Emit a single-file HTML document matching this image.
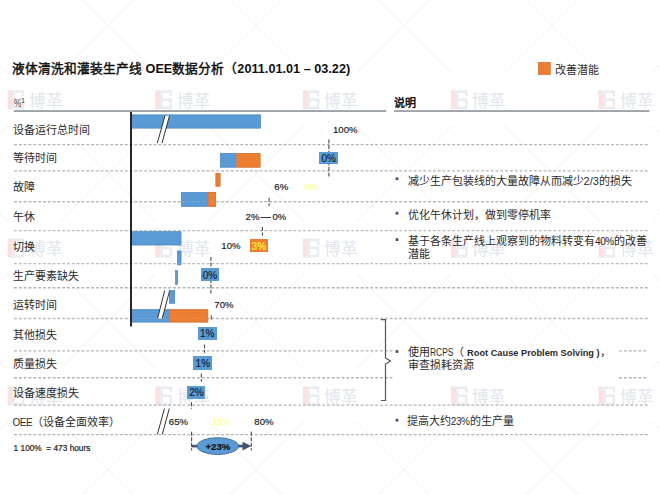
<!DOCTYPE html>
<html lang="zh-CN"><head><meta charset="utf-8"><title>OEE</title>
<style>
html,body{margin:0;padding:0;background:#fff}
body{width:660px;height:495px;overflow:hidden;position:relative;font-family:"Liberation Sans",sans-serif;color:#262626}
.t{position:absolute;white-space:pre;line-height:1}
.l{font-size:11px;line-height:11px;color:#2b2b2b}
.n{font-size:9.6px;line-height:10px;color:#1c1c1c;-webkit-text-stroke:0.18px currentColor}
.bx{position:absolute;background:#5b9bd5;color:#16202c;font-size:10px;-webkit-text-stroke:0.15px currentColor;display:flex;align-items:center;justify-content:center;line-height:1;padding-top:2px;box-sizing:border-box}
svg{position:absolute;left:0;top:0}
</style></head><body>
<div class="t" style="left:29.1px;top:92.8px;font-size:16.5px;line-height:16px;color:#e4e7ee;-webkit-text-stroke:0.15px currentColor">博革</div>
<div class="t" style="left:176.8px;top:92.8px;font-size:16.5px;line-height:16px;color:#e4e7ee;-webkit-text-stroke:0.15px currentColor">博革</div>
<div class="t" style="left:324.3px;top:92.8px;font-size:16.5px;line-height:16px;color:#e4e7ee;-webkit-text-stroke:0.15px currentColor">博革</div>
<div class="t" style="left:472.4px;top:92.8px;font-size:16.5px;line-height:16px;color:#e4e7ee;-webkit-text-stroke:0.15px currentColor">博革</div>
<div class="t" style="left:620.0px;top:92.8px;font-size:16.5px;line-height:16px;color:#e4e7ee;-webkit-text-stroke:0.15px currentColor">博革</div>
<div class="t" style="left:29.1px;top:241.2px;font-size:16.5px;line-height:16px;color:#e4e7ee;-webkit-text-stroke:0.15px currentColor">博革</div>
<div class="t" style="left:176.8px;top:241.2px;font-size:16.5px;line-height:16px;color:#e4e7ee;-webkit-text-stroke:0.15px currentColor">博革</div>
<div class="t" style="left:324.3px;top:241.2px;font-size:16.5px;line-height:16px;color:#e4e7ee;-webkit-text-stroke:0.15px currentColor">博革</div>
<div class="t" style="left:472.4px;top:241.2px;font-size:16.5px;line-height:16px;color:#e4e7ee;-webkit-text-stroke:0.15px currentColor">博革</div>
<div class="t" style="left:620.0px;top:241.2px;font-size:16.5px;line-height:16px;color:#e4e7ee;-webkit-text-stroke:0.15px currentColor">博革</div>
<div class="t" style="left:29.1px;top:389.0px;font-size:16.5px;line-height:16px;color:#e4e7ee;-webkit-text-stroke:0.15px currentColor">博革</div>
<div class="t" style="left:176.8px;top:389.0px;font-size:16.5px;line-height:16px;color:#e4e7ee;-webkit-text-stroke:0.15px currentColor">博革</div>
<div class="t" style="left:324.3px;top:389.0px;font-size:16.5px;line-height:16px;color:#e4e7ee;-webkit-text-stroke:0.15px currentColor">博革</div>
<div class="t" style="left:472.4px;top:389.0px;font-size:16.5px;line-height:16px;color:#e4e7ee;-webkit-text-stroke:0.15px currentColor">博革</div>
<div class="t" style="left:620.0px;top:389.0px;font-size:16.5px;line-height:16px;color:#e4e7ee;-webkit-text-stroke:0.15px currentColor">博革</div>
<svg width="660" height="495" viewBox="0 0 660 495">
<g stroke="#f0f0f0" stroke-width="1" fill="none">
<line x1="-88" y1="-170.5" x2="8" y2="-74.5"/><line x1="-88" y1="-74.5" x2="8" y2="-170.5"/>
<line x1="-88" y1="-22.5" x2="8" y2="73.5"/><line x1="-88" y1="73.5" x2="8" y2="-22.5"/>
<line x1="-88" y1="125.5" x2="8" y2="221.5"/><line x1="-88" y1="221.5" x2="8" y2="125.5"/>
<line x1="-88" y1="273.5" x2="8" y2="369.5"/><line x1="-88" y1="369.5" x2="8" y2="273.5"/>
<line x1="-88" y1="421.5" x2="8" y2="517.5"/><line x1="-88" y1="517.5" x2="8" y2="421.5"/>
<line x1="60" y1="-170.5" x2="156" y2="-74.5"/><line x1="60" y1="-74.5" x2="156" y2="-170.5"/>
<line x1="60" y1="-22.5" x2="156" y2="73.5"/><line x1="60" y1="73.5" x2="156" y2="-22.5"/>
<line x1="60" y1="125.5" x2="156" y2="221.5"/><line x1="60" y1="221.5" x2="156" y2="125.5"/>
<line x1="60" y1="273.5" x2="156" y2="369.5"/><line x1="60" y1="369.5" x2="156" y2="273.5"/>
<line x1="60" y1="421.5" x2="156" y2="517.5"/><line x1="60" y1="517.5" x2="156" y2="421.5"/>
<line x1="208" y1="-170.5" x2="304" y2="-74.5"/><line x1="208" y1="-74.5" x2="304" y2="-170.5"/>
<line x1="208" y1="-22.5" x2="304" y2="73.5"/><line x1="208" y1="73.5" x2="304" y2="-22.5"/>
<line x1="208" y1="125.5" x2="304" y2="221.5"/><line x1="208" y1="221.5" x2="304" y2="125.5"/>
<line x1="208" y1="273.5" x2="304" y2="369.5"/><line x1="208" y1="369.5" x2="304" y2="273.5"/>
<line x1="208" y1="421.5" x2="304" y2="517.5"/><line x1="208" y1="517.5" x2="304" y2="421.5"/>
<line x1="356" y1="-170.5" x2="452" y2="-74.5"/><line x1="356" y1="-74.5" x2="452" y2="-170.5"/>
<line x1="356" y1="-22.5" x2="452" y2="73.5"/><line x1="356" y1="73.5" x2="452" y2="-22.5"/>
<line x1="356" y1="125.5" x2="452" y2="221.5"/><line x1="356" y1="221.5" x2="452" y2="125.5"/>
<line x1="356" y1="273.5" x2="452" y2="369.5"/><line x1="356" y1="369.5" x2="452" y2="273.5"/>
<line x1="356" y1="421.5" x2="452" y2="517.5"/><line x1="356" y1="517.5" x2="452" y2="421.5"/>
<line x1="504" y1="-170.5" x2="600" y2="-74.5"/><line x1="504" y1="-74.5" x2="600" y2="-170.5"/>
<line x1="504" y1="-22.5" x2="600" y2="73.5"/><line x1="504" y1="73.5" x2="600" y2="-22.5"/>
<line x1="504" y1="125.5" x2="600" y2="221.5"/><line x1="504" y1="221.5" x2="600" y2="125.5"/>
<line x1="504" y1="273.5" x2="600" y2="369.5"/><line x1="504" y1="369.5" x2="600" y2="273.5"/>
<line x1="504" y1="421.5" x2="600" y2="517.5"/><line x1="504" y1="517.5" x2="600" y2="421.5"/>
<line x1="652" y1="-170.5" x2="748" y2="-74.5"/><line x1="652" y1="-74.5" x2="748" y2="-170.5"/>
<line x1="652" y1="-22.5" x2="748" y2="73.5"/><line x1="652" y1="73.5" x2="748" y2="-22.5"/>
<line x1="652" y1="125.5" x2="748" y2="221.5"/><line x1="652" y1="221.5" x2="748" y2="125.5"/>
<line x1="652" y1="273.5" x2="748" y2="369.5"/><line x1="652" y1="369.5" x2="748" y2="273.5"/>
<line x1="652" y1="421.5" x2="748" y2="517.5"/><line x1="652" y1="517.5" x2="748" y2="421.5"/>
</g>
<g transform="translate(7.6,90.2)">
<rect x="0" y="0" width="5" height="19" fill="#fbe2e2"/>
<path d="M5 0H16.6V6H14.2V2.7H7.4V16.3H14.2V10.7H6.3V8.1H16.6V19H5Z" fill="#eaecf2"/>
</g>
<g transform="translate(155.3,90.2)">
<rect x="0" y="0" width="5" height="19" fill="#fbe2e2"/>
<path d="M5 0H16.6V6H14.2V2.7H7.4V16.3H14.2V10.7H6.3V8.1H16.6V19H5Z" fill="#eaecf2"/>
</g>
<g transform="translate(302.8,90.2)">
<rect x="0" y="0" width="5" height="19" fill="#fbe2e2"/>
<path d="M5 0H16.6V6H14.2V2.7H7.4V16.3H14.2V10.7H6.3V8.1H16.6V19H5Z" fill="#eaecf2"/>
</g>
<g transform="translate(450.9,90.2)">
<rect x="0" y="0" width="5" height="19" fill="#fbe2e2"/>
<path d="M5 0H16.6V6H14.2V2.7H7.4V16.3H14.2V10.7H6.3V8.1H16.6V19H5Z" fill="#eaecf2"/>
</g>
<g transform="translate(598.5,90.2)">
<rect x="0" y="0" width="5" height="19" fill="#fbe2e2"/>
<path d="M5 0H16.6V6H14.2V2.7H7.4V16.3H14.2V10.7H6.3V8.1H16.6V19H5Z" fill="#eaecf2"/>
</g>
<g transform="translate(7.6,238.6)">
<rect x="0" y="0" width="5" height="19" fill="#fbe2e2"/>
<path d="M5 0H16.6V6H14.2V2.7H7.4V16.3H14.2V10.7H6.3V8.1H16.6V19H5Z" fill="#eaecf2"/>
</g>
<g transform="translate(155.3,238.6)">
<rect x="0" y="0" width="5" height="19" fill="#fbe2e2"/>
<path d="M5 0H16.6V6H14.2V2.7H7.4V16.3H14.2V10.7H6.3V8.1H16.6V19H5Z" fill="#eaecf2"/>
</g>
<g transform="translate(302.8,238.6)">
<rect x="0" y="0" width="5" height="19" fill="#fbe2e2"/>
<path d="M5 0H16.6V6H14.2V2.7H7.4V16.3H14.2V10.7H6.3V8.1H16.6V19H5Z" fill="#eaecf2"/>
</g>
<g transform="translate(450.9,238.6)">
<rect x="0" y="0" width="5" height="19" fill="#fbe2e2"/>
<path d="M5 0H16.6V6H14.2V2.7H7.4V16.3H14.2V10.7H6.3V8.1H16.6V19H5Z" fill="#eaecf2"/>
</g>
<g transform="translate(598.5,238.6)">
<rect x="0" y="0" width="5" height="19" fill="#fbe2e2"/>
<path d="M5 0H16.6V6H14.2V2.7H7.4V16.3H14.2V10.7H6.3V8.1H16.6V19H5Z" fill="#eaecf2"/>
</g>
<g transform="translate(7.6,386.4)">
<rect x="0" y="0" width="5" height="19" fill="#fbe2e2"/>
<path d="M5 0H16.6V6H14.2V2.7H7.4V16.3H14.2V10.7H6.3V8.1H16.6V19H5Z" fill="#eaecf2"/>
</g>
<g transform="translate(155.3,386.4)">
<rect x="0" y="0" width="5" height="19" fill="#fbe2e2"/>
<path d="M5 0H16.6V6H14.2V2.7H7.4V16.3H14.2V10.7H6.3V8.1H16.6V19H5Z" fill="#eaecf2"/>
</g>
<g transform="translate(302.8,386.4)">
<rect x="0" y="0" width="5" height="19" fill="#fbe2e2"/>
<path d="M5 0H16.6V6H14.2V2.7H7.4V16.3H14.2V10.7H6.3V8.1H16.6V19H5Z" fill="#eaecf2"/>
</g>
<g transform="translate(450.9,386.4)">
<rect x="0" y="0" width="5" height="19" fill="#fbe2e2"/>
<path d="M5 0H16.6V6H14.2V2.7H7.4V16.3H14.2V10.7H6.3V8.1H16.6V19H5Z" fill="#eaecf2"/>
</g>
<g transform="translate(598.5,386.4)">
<rect x="0" y="0" width="5" height="19" fill="#fbe2e2"/>
<path d="M5 0H16.6V6H14.2V2.7H7.4V16.3H14.2V10.7H6.3V8.1H16.6V19H5Z" fill="#eaecf2"/>
</g>

<rect x="13.7" y="110.1" width="372.5" height="1.9" fill="#9ea4aa"/>
<rect x="394.2" y="110.1" width="255.2" height="1.9" fill="#9ea4aa"/>
<g stroke="#b2b2b2" stroke-width="1.4" stroke-dasharray="2.8 2.0145">
<line x1="14.1" y1="144.6" x2="648.2" y2="144.6"/>
<line x1="14.1" y1="170.9" x2="648.2" y2="170.9"/>
<line x1="14.1" y1="201.8" x2="648.2" y2="201.8"/>
<line x1="14.1" y1="230.6" x2="648.2" y2="230.6"/>
<line x1="14.1" y1="263.6" x2="648.2" y2="263.6"/>
<line x1="14.1" y1="287.8" x2="648.2" y2="287.8"/>
<line x1="14.1" y1="318.5" x2="648.2" y2="318.5"/>
<line x1="14.1" y1="405.1" x2="648.2" y2="405.1"/>
<line x1="14.1" y1="434.6" x2="648.2" y2="434.6"/>
<line x1="14.1" y1="350.9" x2="393" y2="350.9"/>
<line x1="619.2" y1="350.9" x2="648.2" y2="350.9"/>
<line x1="14.1" y1="377.8" x2="393" y2="377.8"/>
<line x1="619.2" y1="377.8" x2="648.2" y2="377.8"/>
</g>
<rect x="132.35" y="114.85" width="128.3" height="13.3" fill="#5b9bd5" stroke="#4a85c0" stroke-width="0.7"/>
<rect x="220.35" y="153.35" width="15.8" height="13.899999999999995" fill="#5b9bd5" stroke="#4a85c0" stroke-width="0.7"/>
<rect x="236.85" y="153.35" width="23.3" height="13.899999999999995" fill="#ed7d31" stroke="#c8682c" stroke-width="0.7"/>
<rect x="215.85" y="173.35" width="4.3" height="12.899999999999995" fill="#ed7d31" stroke="#c8682c" stroke-width="0.7"/>
<rect x="181.35" y="192.35" width="26.3" height="14.100000000000012" fill="#5b9bd5" stroke="#4a85c0" stroke-width="0.7"/>
<rect x="208.35" y="192.35" width="7.3" height="14.100000000000012" fill="#ed7d31" stroke="#c8682c" stroke-width="0.7"/>
<rect x="131.35" y="231.65" width="49.7" height="13.399999999999995" fill="#5b9bd5" stroke="#4a85c0" stroke-width="0.7"/>
<rect x="177.35" y="250.95" width="3.7000000000000055" height="13.899999999999995" fill="#5b9bd5" stroke="#4a85c0" stroke-width="0.7"/>
<rect x="175.54999999999998" y="270.65000000000003" width="2.000000000000017" height="13.8" fill="#5b9bd5" stroke="#4a85c0" stroke-width="0.7"/>
<rect x="169.35" y="290.35" width="5.3" height="12.900000000000023" fill="#5b9bd5" stroke="#4a85c0" stroke-width="0.7"/>
<rect x="132.35" y="309.55" width="36.3" height="12.600000000000012" fill="#5b9bd5" stroke="#4a85c0" stroke-width="0.7"/>
<rect x="169.35" y="309.55" width="38.499999999999986" height="12.600000000000012" fill="#ed7d31" stroke="#c8682c" stroke-width="0.7"/>
<g stroke="#ffffff" stroke-opacity="0.13" stroke-width="1.2" stroke-dasharray="2.8 2.0145">
<line x1="14.1" y1="201.8" x2="648.2" y2="201.8"/>
<line x1="14.1" y1="230.6" x2="648.2" y2="230.6"/>
<line x1="14.1" y1="263.6" x2="648.2" y2="263.6"/>
<line x1="14.1" y1="318.5" x2="648.2" y2="318.5"/>
</g>
<path d="M165 115.7 L169.5 115.7 L162 143.1 L157.3 143.1 Z" fill="#fff" stroke="none"/>
<line x1="165" y1="115.7" x2="157.3" y2="143.1" stroke="#333" stroke-width="1"/>
<line x1="169.5" y1="115.7" x2="162" y2="143.1" stroke="#333" stroke-width="1"/>
<path d="M164.7 290.5 L169.7 290.5 L162.2 318.4 L157.6 318.4 Z" fill="#fff" stroke="none"/>
<line x1="164.7" y1="290.5" x2="157.6" y2="318.4" stroke="#333" stroke-width="1"/>
<line x1="169.7" y1="290.5" x2="162.2" y2="318.4" stroke="#333" stroke-width="1"/>
<line x1="164.4" y1="408.5" x2="157.4" y2="434.4" stroke="#333" stroke-width="1"/>
<line x1="169.3" y1="408.5" x2="162.3" y2="434.4" stroke="#333" stroke-width="1"/>
<rect x="130.1" y="112" width="1.8" height="214.5" fill="#111"/>
<line x1="328.9" y1="139.4" x2="328.9" y2="177.3" stroke="#4a4a4a" stroke-width="1.1" stroke-dasharray="4 1.5"/>
<line x1="269.1" y1="197.7" x2="269.1" y2="205.9" stroke="#4a4a4a" stroke-width="1.1" stroke-dasharray="4 1.5"/>
<line x1="262.4" y1="227" x2="262.4" y2="235.5" stroke="#4a4a4a" stroke-width="1.1" stroke-dasharray="4 1.5"/>
<line x1="210.9" y1="257" x2="210.9" y2="293.6" stroke="#4a4a4a" stroke-width="1.1" stroke-dasharray="4 1.5"/>
<line x1="211.3" y1="315.5" x2="211.3" y2="320.5" stroke="#4a4a4a" stroke-width="1.1" stroke-dasharray="4 1.5"/>
<line x1="204.5" y1="344.5" x2="204.5" y2="352.7" stroke="#4a4a4a" stroke-width="1.1" stroke-dasharray="4 1.5"/>
<line x1="201.3" y1="373.6" x2="201.3" y2="381.8" stroke="#4a4a4a" stroke-width="1.1" stroke-dasharray="4 1.5"/>
<line x1="191.5" y1="402.2" x2="191.5" y2="408.8" stroke="#4a4a4a" stroke-width="1.1" stroke-dasharray="4 1.5"/>
<line x1="191.6" y1="431.8" x2="191.6" y2="450.6" stroke="#4a4a4a" stroke-width="1.1" stroke-dasharray="4 1.5"/>
<line x1="251.3" y1="431.8" x2="251.3" y2="450.6" stroke="#4a4a4a" stroke-width="1.1" stroke-dasharray="4 1.5"/>
<line x1="260.8" y1="217.5" x2="271" y2="217.5" stroke="#333" stroke-width="1"/>
<rect x="191.6" y="444.8" width="52" height="2.6" fill="#44546a"/>
<path d="M242.5 441.8 L251.3 446.1 L242.5 450.4 Z" fill="#44546a"/>
<ellipse cx="217.7" cy="446.1" rx="20.7" ry="8.4" fill="#5b9bd5" stroke="#41719c" stroke-width="1"/>
<path d="M381 319.7 H385.5 V358 L390.5 361 L385.5 364 V400.5 H381" fill="none" stroke="#555" stroke-width="1.2"/>
<rect x="395.6" y="177.3" width="2.7" height="2.8" fill="#44546a"/>
<rect x="395.6" y="211.8" width="2.7" height="2.8" fill="#44546a"/>
<rect x="395.6" y="238.2" width="2.7" height="2.8" fill="#44546a"/>
<rect x="395.6" y="350.1" width="2.7" height="2.8" fill="#44546a"/>
<rect x="395.6" y="418.8" width="2.7" height="2.8" fill="#44546a"/>
<rect x="538.3" y="62.3" width="12" height="12.3" fill="#ed7d31" stroke="#c8682a" stroke-width="0.6"/>
</svg>
<div class="t " style="left:12px;top:63px;font-size:12.7px;line-height:13px;font-weight:bold;color:#111"><span style='font-weight:normal;-webkit-text-stroke:0.45px #111'>液体清洗和灌装生产线</span> OEE<span style='font-weight:normal;-webkit-text-stroke:0.45px #111'>数据分析（</span>2011.01.01 – 03.22)</div>
<div class="t l" style="left:555px;top:65px;">改善潜能</div>
<div class="t " style="left:13.9px;top:95px;font-size:10.5px;line-height:11px;color:#3a3a3a"><span style="display:inline-block;transform:scaleX(0.78);transform-origin:0 0;margin-right:-2px">%</span><sup style="font-size:6.5px;vertical-align:3.5px">1</sup></div>
<div class="t l" style="left:394px;top:97.8px;font-weight:normal;-webkit-text-stroke:0.5px #111;color:#111">说明</div>
<div class="t l" style="left:12.6px;top:124.6px;">设备运行总时间</div>
<div class="t l" style="left:12.6px;top:153.29999999999998px;">等待时间</div>
<div class="t l" style="left:12.6px;top:182.4px;">故障</div>
<div class="t l" style="left:12.6px;top:212.4px;">午休</div>
<div class="t l" style="left:12.6px;top:242.0px;">切换</div>
<div class="t l" style="left:12.6px;top:270.6px;">生产要素缺失</div>
<div class="t l" style="left:12.6px;top:299.8px;">运转时间</div>
<div class="t l" style="left:12.6px;top:329.70000000000005px;">其他损失</div>
<div class="t l" style="left:12.6px;top:358.8px;">质量损失</div>
<div class="t l" style="left:12.6px;top:387.90000000000003px;">设备速度损失</div>
<div class="t l" style="left:12.6px;top:417.20000000000005px;"><span style='font-size:10px;letter-spacing:-0.5px'>OEE</span>（设备全面效率）</div>
<div class="t " style="left:13.6px;top:444px;font-size:8.3px;line-height:9px;color:#222;-webkit-text-stroke:0.2px #222">1 100%  = 473 hours</div>
<div class="t n" style="left:333px;top:124.8px;">100%</div>
<div class="t n" style="left:274.3px;top:182px;">6%</div>
<div class="t n" style="left:304.3px;top:181.5px;color:#ffff77;-webkit-text-stroke:0">9%</div>
<div class="t n" style="left:245.6px;top:211.5px;">2%</div>
<div class="t n" style="left:272.5px;top:211.5px;">0%</div>
<div class="t n" style="left:221.3px;top:241.2px;">10%</div>
<div class="t n" style="left:214.3px;top:299.8px;">70%</div>
<div class="t n" style="left:168.8px;top:416.7px;">65%</div>
<div class="t n" style="left:211.8px;top:416.7px;color:#ffff77;-webkit-text-stroke:0">15%</div>
<div class="t n" style="left:254.3px;top:416.7px;">80%</div>
<div class="bx" style="left:319.2px;top:151.6px;width:19.100000000000023px;height:12.700000000000017px;background:#5b9bd5;color:#16202c">0%</div>
<div class="bx" style="left:249.7px;top:239.3px;width:18.30000000000001px;height:13.0px;background:#ed7d31;color:#ffff33">3%</div>
<div class="bx" style="left:201px;top:268.2px;width:18px;height:13.300000000000011px;background:#5b9bd5;color:#16202c">0%</div>
<div class="bx" style="left:197.6px;top:326.9px;width:19.400000000000006px;height:13.100000000000023px;background:#5b9bd5;color:#16202c">1%</div>
<div class="bx" style="left:193.3px;top:356px;width:19.099999999999994px;height:13.5px;background:#5b9bd5;color:#16202c">1%</div>
<div class="bx" style="left:187.3px;top:386px;width:18.19999999999999px;height:12.699999999999989px;background:#5b9bd5;color:#16202c">2%</div>
<div class="t n" style="left:205.5px;top:442px;font-weight:bold;color:#111">+23%</div>
<div class="t l" style="left:407.6px;top:176px;">减少生产包装线的大量故障从而减少2/3的损失</div>
<div class="t l" style="left:407.6px;top:209.5px;">优化午休计划，做到零停机率</div>
<div class="t l" style="left:408px;top:235px;line-height:13px">基于各条生产线上观察到的物料转变有<span style='font-size:10px;letter-spacing:-0.4px'>40%</span>的改善
潜能</div>
<div class="t l" style="left:407.8px;top:346.2px;line-height:12.3px">使用<span style='display:inline-block;font-size:10px;transform:scaleX(0.84);transform-origin:0 0;margin-right:-4.6px'>RCPS</span>（ <b style='font-size:9.25px'>Root Cause Problem Solving )</b>，
审查损耗资源</div>
<div class="t l" style="left:406.8px;top:416.3px;">提高大约<span style='font-size:10px;letter-spacing:-0.4px'>23%</span>的生产量</div>
</body></html>
